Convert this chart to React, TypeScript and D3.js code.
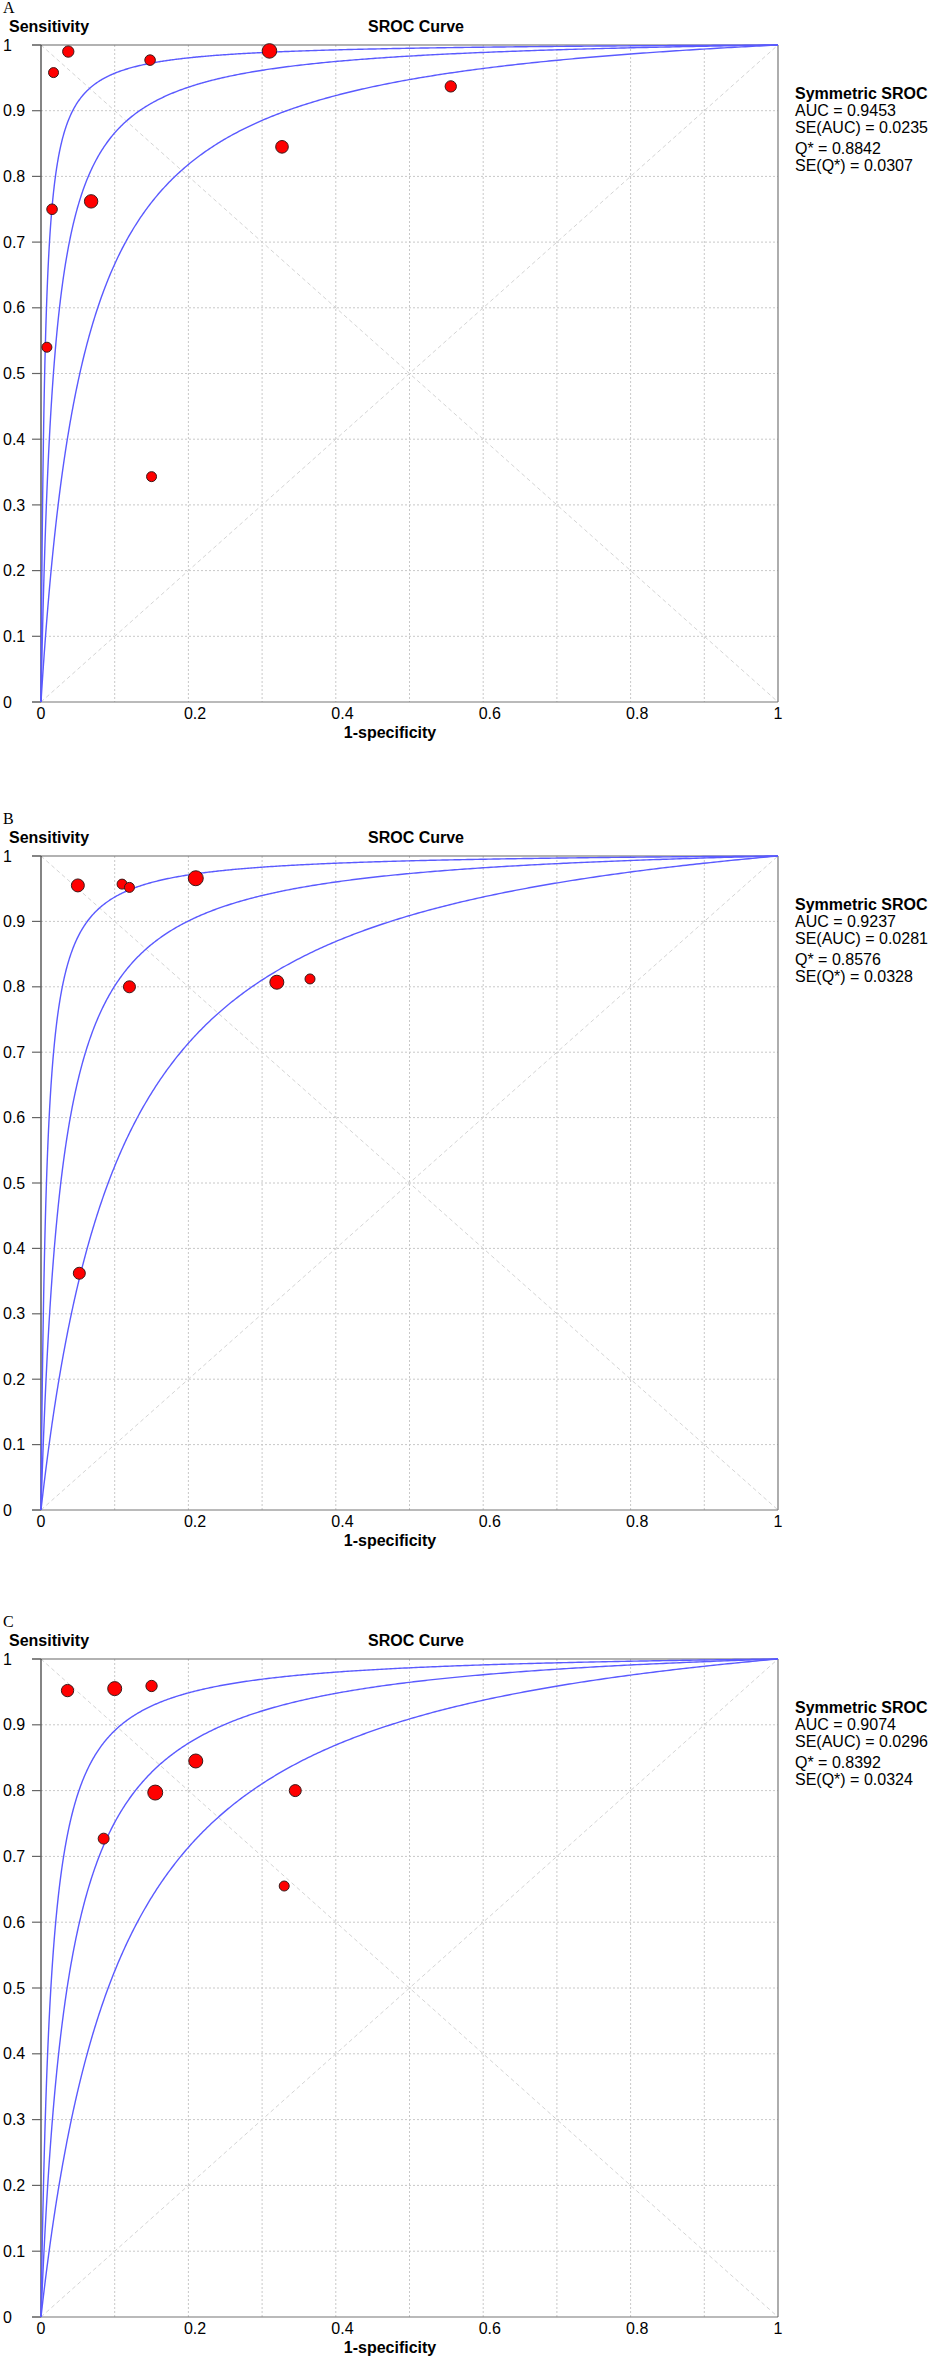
import React from "react";
import * as d3 from "d3";

// ---------- data ----------
const panelLetters = ["A", "B", "C"];

// Panel A studies
const fprA = [0.037, 0.017, 0.148, 0.31, 0.327, 0.556, 0.015, 0.068, 0.008, 0.15];
const sensA = [0.99, 0.958, 0.977, 0.991, 0.845, 0.937, 0.75, 0.762, 0.54, 0.343];
const weightA = [32, 25, 28, 53, 40, 32, 28, 45, 25, 25];

// Panel B studies
const fprB = [0.05, 0.11, 0.12, 0.21, 0.12, 0.32, 0.365, 0.052];
const sensB = [0.955, 0.957, 0.952, 0.966, 0.8, 0.807, 0.812, 0.362];
const weightB = [42, 25, 25, 56, 36, 49, 25, 36];

// Panel C studies
const fprC = [0.036, 0.1, 0.15, 0.21, 0.155, 0.085, 0.345, 0.33];
const sensC = [0.952, 0.955, 0.959, 0.845, 0.797, 0.727, 0.8, 0.655];
const weightC = [38, 49, 32, 49, 56, 30, 36, 25];

// Symmetric SROC statistics
const aucValues = ["0.9453", "0.9237", "0.9074"];
const seAucValues = ["0.0235", "0.0281", "0.0296"];
const qStarValues = [0.8842, 0.8576, 0.8392];
const seQStarValues = ["0.0307", "0.0328", "0.0324"];
// ln(DOR) of the upper / lower curves drawn around the SROC curve
const upperLnDor = [5.3, 4.9, 4.3];
const lowerLnDor = [2.89, 2.3, 2.3];

const yTicks = [0, 0.1, 0.2, 0.3, 0.4, 0.5, 0.6, 0.7, 0.8, 0.9, 1];
const yTickLabels = ["0", "0.1", "0.2", "0.3", "0.4", "0.5", "0.6", "0.7", "0.8", "0.9", "1"];
const xTicks = [0, 0.2, 0.4, 0.6, 0.8, 1];
const xTickLabels = ["0", "0.2", "0.4", "0.6", "0.8", "1"];
const gridTicks = [0.1, 0.2, 0.3, 0.4, 0.5, 0.6, 0.7, 0.8, 0.9];

const panelData = [
  { fpr: fprA, sens: sensA, w: weightA },
  { fpr: fprB, sens: sensB, w: weightB },
  { fpr: fprC, sens: sensC, w: weightC },
];

// ---------- layout ----------
const W = 930;
const H = 2357;
const plotTops = [45, 856, 1659];
const plotBottoms = [702, 1510, 2317];
const plotLeft = 41;
const plotRight = 778;

const font = "'Liberation Sans', Arial, sans-serif";
const blue = "#5a5aff";

const logit = (p: number) => Math.log(p / (1 - p));
const expit = (z: number) => 1 / (1 + Math.exp(-z));

function curvePoints(lnDor: number): [number, number][] {
  const ts = d3.range(0, 1.0000001, 1 / 600);
  return ts.map((t) => {
    const f = Math.pow(t, 3);
    if (f <= 0) return [0, 0];
    if (f >= 1) return [1, 1];
    return [f, expit(lnDor + logit(f))];
  });
}

function Panel({ idx }: { idx: number }) {
  const plotTop = plotTops[idx];
  const plotBottom = plotBottoms[idx];
  const x = d3.scaleLinear().domain([0, 1]).range([plotLeft, plotRight]);
  const y = d3.scaleLinear().domain([0, 1]).range([plotBottom, plotTop]);
  const r = d3.scaleSqrt().domain([0, 64]).range([0, 8]);
  const line = d3
    .line<[number, number]>()
    .x((d) => x(d[0]))
    .y((d) => y(d[1]));
  const q = qStarValues[idx];
  const midLnDor = 2 * Math.log(q / (1 - q));
  const curves = [upperLnDor[idx], midLnDor, lowerLnDor[idx]];
  const pd = panelData[idx];
  const order = d3.range(pd.fpr.length);
  const legend = [
    `AUC = ${aucValues[idx]}`,
    `SE(AUC) = ${seAucValues[idx]}`,
    `Q* = ${q.toFixed(4)}`,
    `SE(Q*) = ${seQStarValues[idx]}`,
  ];
  const legendDy = [71, 88, 109, 126];

  return (
    <g>
      <text x={3} y={plotTop - 32} fontFamily="'Liberation Serif', 'Times New Roman', serif" fontSize={16} fill="#000">
        {panelLetters[idx]}
      </text>
      <text x={9} y={plotTop - 13} fontFamily={font} fontWeight="bold" fontSize={16} fill="#000">
        Sensitivity
      </text>
      <text x={416} y={plotTop - 13} textAnchor="middle" fontFamily={font} fontWeight="bold" fontSize={16} fill="#000">
        SROC Curve
      </text>

      {/* grid */}
      {gridTicks.map((t) => (
        <line key={"gx" + t} x1={x(t)} x2={x(t)} y1={plotTop} y2={plotBottom} stroke="#c8c8c8" strokeWidth={1} strokeDasharray="2,2" />
      ))}
      {gridTicks.map((t) => (
        <line key={"gy" + t} x1={plotLeft} x2={plotRight} y1={y(t)} y2={y(t)} stroke="#c8c8c8" strokeWidth={1} strokeDasharray="2,2" />
      ))}

      {/* diagonals */}
      <line x1={x(0)} y1={y(1)} x2={x(1)} y2={y(0)} stroke="#d4d4d4" strokeWidth={1} strokeDasharray="4,3" />
      <line x1={x(0)} y1={y(0)} x2={x(1)} y2={y(1)} stroke="#d4d4d4" strokeWidth={1} strokeDasharray="4,3" />

      {/* frame */}
      <line x1={32} x2={plotRight} y1={plotTop} y2={plotTop} stroke="#666" strokeWidth={1.2} />
      <line x1={plotRight} x2={plotRight} y1={plotTop} y2={plotBottom} stroke="#777" strokeWidth={1.2} />
      <line x1={32} x2={plotRight} y1={plotBottom} y2={plotBottom} stroke="#777" strokeWidth={1.2} />
      <line x1={plotLeft} x2={plotLeft} y1={plotTop} y2={plotBottom} stroke="#333" strokeWidth={1.2} />
      {yTicks.map((t) => (
        <line key={"ty" + t} x1={32} x2={plotLeft} y1={y(t)} y2={y(t)} stroke="#666" strokeWidth={1.2} />
      ))}

      {/* y labels */}
      {yTicks.map((t, i) => (
        <text key={"ly" + t} x={3} y={y(t)} dy="0.35em" fontFamily={font} fontSize={16} fill="#000">
          {yTickLabels[i]}
        </text>
      ))}
      {/* x labels */}
      {xTicks.map((t, i) => (
        <text key={"lx" + t} x={x(t) - 4.5} y={plotBottom + 17} fontFamily={font} fontSize={16} fill="#000">
          {xTickLabels[i]}
        </text>
      ))}
      <text x={390} y={plotBottom + 36} textAnchor="middle" fontFamily={font} fontWeight="bold" fontSize={16} fill="#000">
        1-specificity
      </text>

      {/* curves */}
      {curves.map((c, i) => (
        <path key={"c" + i} d={line(curvePoints(c)) || ""} fill="none" stroke={blue} strokeWidth={1.4} />
      ))}

      {/* studies */}
      {order.map((i) => (
        <circle key={"p" + i} cx={x(pd.fpr[i])} cy={y(pd.sens[i])} r={r(pd.w[i])} fill="#ff0000" stroke="#3a1a1a" strokeWidth={1} />
      ))}

      {/* legend */}
      <text x={795} y={plotTop + 54} fontFamily={font} fontWeight="bold" fontSize={16} fill="#000">
        Symmetric SROC
      </text>
      {legend.map((s, i) => (
        <text key={"lg" + i} x={795} y={plotTop + legendDy[i]} fontFamily={font} fontSize={16} fill="#000">
          {s}
        </text>
      ))}
    </g>
  );
}

export default function App() {
  return (
    <svg
      width={W}
      height={H}
      viewBox={`0 0 ${W} ${H}`}
      style={{ position: "absolute", left: 0, top: 0, background: "#fff" }}
    >
      <rect x={0} y={0} width={W} height={H} fill="#fff" />
      {[0, 1, 2].map((i) => (
        <Panel key={i} idx={i} />
      ))}
    </svg>
  );
}
